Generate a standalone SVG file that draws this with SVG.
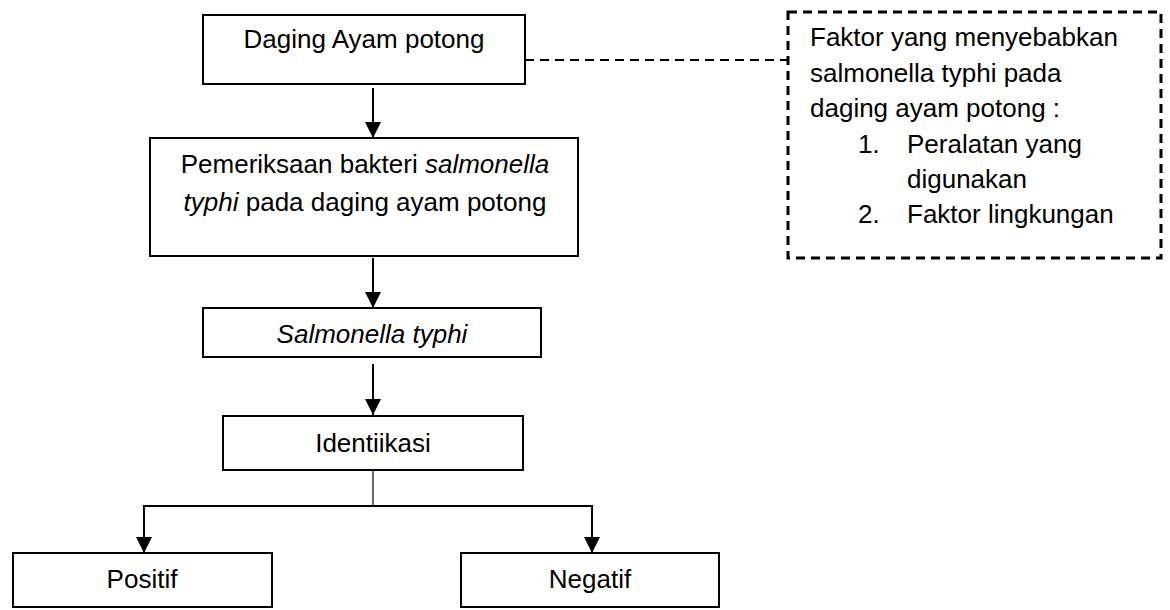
<svg xmlns="http://www.w3.org/2000/svg" width="1170" height="610" viewBox="0 0 1170 610">
<style>
.box{fill:#fff;stroke:#000;stroke-width:2}
.dbox{fill:#fff;stroke:#000;stroke-width:3;stroke-dasharray:9 6}
.t{font-family:"Liberation Sans",Arial,sans-serif;font-size:26px;fill:#000}
.c{text-anchor:middle}
.ln{stroke:#000;stroke-width:2;fill:none}
.dl{stroke:#000;stroke-width:2;fill:none;stroke-dasharray:9 6}
</style>
<defs>
<marker id="ah" viewBox="0 0 16 16" refX="16" refY="8" markerWidth="16" markerHeight="16" markerUnits="userSpaceOnUse" orient="auto">
<path d="M0,0 L16,8 L0,16 Z" fill="#000"/>
</marker>
</defs>
<g id="connectors">
<line class="dl" x1="525" y1="60" x2="788" y2="60"/>
<line class="ln" x1="373" y1="88" x2="373" y2="138" marker-end="url(#ah)"/>
<line class="ln" x1="373" y1="258" x2="373" y2="308" marker-end="url(#ah)"/>
<line class="ln" x1="373" y1="364" x2="373" y2="415" marker-end="url(#ah)"/>
<line x1="373" y1="470" x2="373" y2="506" stroke="#000" stroke-width="1.2"/>
<line class="ln" x1="143" y1="506" x2="593" y2="506"/>
<line class="ln" x1="144" y1="506" x2="144" y2="553" marker-end="url(#ah)"/>
<line class="ln" x1="592" y1="506" x2="592" y2="553" marker-end="url(#ah)"/>
</g>
<g id="n1">
<rect class="box" x="203" y="15" width="322" height="69"/>
<text class="t c" x="364" y="48">Daging Ayam potong</text>
</g>
<g id="n2">
<rect class="box" x="150" y="138" width="428" height="118"/>
<text class="t c" x="365" y="173">Pemeriksaan bakteri <tspan font-style="italic">salmonella</tspan></text>
<text class="t c" x="365" y="211"><tspan font-style="italic">typhi</tspan> pada daging ayam potong</text>
</g>
<g id="n3">
<rect class="box" x="203" y="308" width="338" height="49"/>
<text class="t c" x="372" y="343" font-style="italic">Salmonella typhi</text>
</g>
<g id="n4">
<rect class="box" x="223" y="416" width="300" height="54"/>
<text class="t c" x="373" y="452">Identiikasi</text>
</g>
<g id="n5">
<rect class="box" x="13" y="553" width="259" height="54"/>
<text class="t c" x="142" y="588">Positif</text>
</g>
<g id="n6">
<rect class="box" x="461" y="553" width="258" height="54"/>
<text class="t c" x="590" y="588">Negatif</text>
</g>
<g id="n7">
<rect class="dbox" x="788" y="12" width="373" height="246"/>
<text class="t" x="810" y="46">Faktor yang menyebabkan</text>
<text class="t" x="810" y="82">salmonella typhi pada</text>
<text class="t" x="810" y="117">daging ayam potong :</text>
<text class="t" x="858" y="153">1.</text>
<text class="t" x="907" y="153">Peralatan yang</text>
<text class="t" x="907" y="188">digunakan</text>
<text class="t" x="858" y="223">2.</text>
<text class="t" x="907" y="223">Faktor lingkungan</text>
</g>
</svg>
